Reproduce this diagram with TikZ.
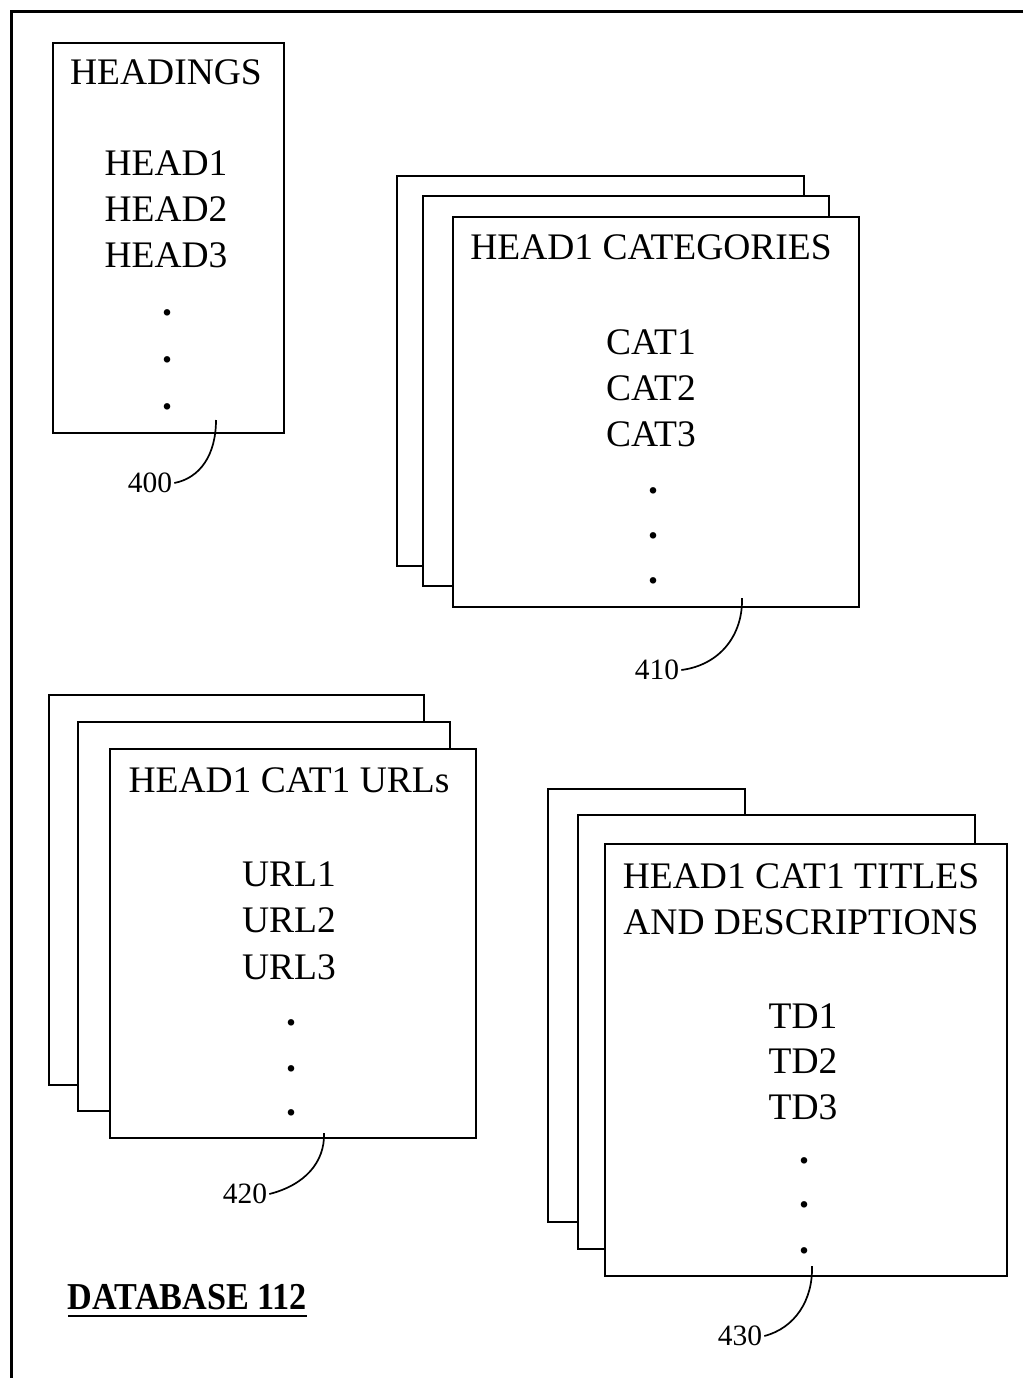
\documentclass[tikz,border=0pt]{standalone}
\usepackage{fontspec}
\setmainfont{Liberation Serif}
\begin{document}
\begin{tikzpicture}[x=1pt,y=-1pt,
  sheet/.style={draw=black,fill=white,line width=1.8pt},
  txt/.style={font=\fontsize{37.5}{40}\selectfont,anchor=base,inner sep=0pt},
  dotmark/.style={font=\fontsize{40}{42}\selectfont\bfseries,anchor=base,inner sep=0pt},
  ref/.style={font=\fontsize{29.5}{31}\selectfont,inner sep=2pt},
  leader/.style={line width=1.7pt}]
\useasboundingbox (0,0) rectangle (1023,1378);
% frame (top and left only visible)
\draw[line width=2.6pt] (1023,11.5) -- (11.5,11.5) -- (11.5,1378);

% ---- 400 ----
\node[sheet,minimum width=231pt,minimum height=390pt,anchor=north west] (b400) at (52,42) {};
\node[txt] (h0) at (166,85) {HEADINGS};
\node[txt] (h1) at (166,175) {HEAD1};
\node[txt] (h2) at (166,221) {HEAD2};
\node[txt] (h3) at (166,267) {HEAD3};
\node[dotmark] (d01) at (167,315) {.};
\node[dotmark] (d02) at (167,362) {.};
\node[dotmark] (d03) at (167,409) {.};
\node[ref] (l400) at (150,483) {400};
\coordinate (p400) at (216,420);
\draw[leader] (l400.east) .. controls (200,478) and (216,455) .. (p400);

% ---- 410 ----
\draw[sheet] (397,176) rectangle (804,566);
\draw[sheet] (423,196) rectangle (829,586);
\node[sheet,minimum width=406pt,minimum height=390pt,anchor=north west] (b410) at (452,216) {};
\node[txt] (c0) at (651,259) {HEAD1 CATEGORIES};
\node[txt] (c1) at (651,354) {CAT1};
\node[txt] (c2) at (651,400) {CAT2};
\node[txt] (c3) at (651,446) {CAT3};
\node[dotmark] (d11) at (653,493) {.};
\node[dotmark] (d12) at (653,538) {.};
\node[dotmark] (d13) at (653,583) {.};
\node[ref] (l410) at (657,670) {410};
\coordinate (p410) at (742,598);
\draw[leader] (l410.east) .. controls (720,665) and (743,635) .. (p410);

% ---- 420 ----
\draw[sheet] (49,695) rectangle (424,1085);
\draw[sheet] (78,722) rectangle (450,1111);
\node[sheet,minimum width=366pt,minimum height=389pt,anchor=north west] (b420) at (109,748) {};
\node[txt] (u0) at (289,792) {HEAD1 CAT1 URLs};
\node[txt] (u1) at (289,886) {URL1};
\node[txt] (u2) at (289,932) {URL2};
\node[txt] (u3) at (289,979) {URL3};
\node[dotmark] (d21) at (291,1025) {.};
\node[dotmark] (d22) at (291,1071) {.};
\node[dotmark] (d23) at (291,1115) {.};
\node[ref] (l420) at (245,1194) {420};
\coordinate (p420) at (324,1133);
\draw[leader] (l420.east) .. controls (305,1185) and (325,1162) .. (p420);

% ---- 430 ----
\draw[sheet] (548,789) rectangle (745,1222);
\draw[sheet] (578,815) rectangle (975,1249);
\node[sheet,minimum width=402pt,minimum height=432pt,anchor=north west] (b430) at (604,843) {};
\node[txt] (t0) at (801,888) {HEAD1 CAT1 TITLES};
\node[txt] (t0b) at (801,934) {AND DESCRIPTIONS};
\node[txt] (t1) at (803,1028) {TD1};
\node[txt] (t2) at (803,1073) {TD2};
\node[txt] (t3) at (803,1119) {TD3};
\node[dotmark] (d31) at (804,1163) {.};
\node[dotmark] (d32) at (804,1207) {.};
\node[dotmark] (d33) at (804,1253) {.};
\node[ref] (l430) at (740,1336) {430};
\coordinate (p430) at (812,1266);
\draw[leader] (l430.east) .. controls (795,1328) and (813,1300) .. (p430);

% ---- title ----
\node[font=\fontsize{38}{40}\selectfont\bfseries,anchor=base,inner sep=0pt] (db) at (187.5,1309) {\scalebox{0.90}[1]{DATABASE 112}};
\coordinate (u1a) at (68,1316);
\coordinate (u1b) at (307,1316);
\draw[line width=1.8pt] (u1a) -- (u1b);
\end{tikzpicture}
\end{document}
